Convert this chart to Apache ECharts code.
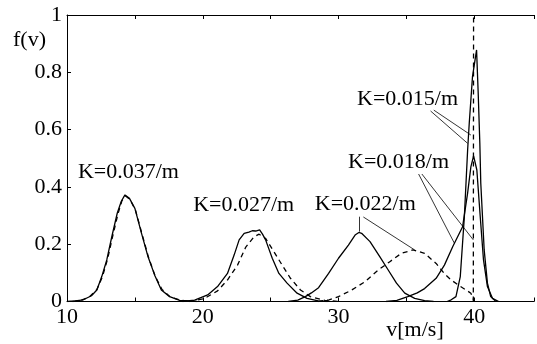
<!DOCTYPE html>
<html>
<head>
<meta charset="utf-8">
<script src="https://cdn.jsdelivr.net/npm/echarts@6/dist/echarts.min.js"></script>
<style>
  html, body { margin: 0; padding: 0; background: #fff; }
  #chart { width: 537px; height: 344px; }
</style>
</head>
<body>
<div id="chart"></div>
<script>
// velocity distributions f(v), [v, f] pairs
const k037Solid = [[10,0],[10.6,0.002],[11.2,0.006],[11.8,0.02],[12.2,0.04],[12.56,0.087],[12.93,0.145],[13.3,0.226],[13.7,0.308],[14.0,0.35],[14.27,0.372],[14.6,0.36],[15.0,0.325],[15.49,0.238],[15.97,0.156],[16.46,0.092],[16.95,0.04],[17.56,0.017],[18.3,0.004],[19,0.002],[19.6,0]];
const k037Dashed = [[10.4,0],[11,0.004],[11.6,0.014],[12.2,0.042],[12.6,0.085],[13.0,0.15],[13.35,0.225],[13.75,0.305],[14.05,0.352],[14.32,0.368],[14.65,0.355],[15.05,0.318],[15.5,0.24],[16.0,0.155],[16.5,0.088],[17.0,0.042],[17.6,0.016],[18.3,0.005],[19,0]];
const k027Solid = [[18.5,0],[19.4,0.005],[20.36,0.023],[21.09,0.052],[21.82,0.098],[22.31,0.162],[22.68,0.215],[23.05,0.238],[23.4,0.242],[23.65,0.247],[23.9,0.246],[24.19,0.25],[24.4,0.235],[24.63,0.215],[25.12,0.151],[25.61,0.098],[26.21,0.064],[26.95,0.029],[27.68,0.011],[28.5,0.002],[29.2,0]];
const k027Dashed = [[19,0],[20.1,0.01],[21.09,0.037],[21.82,0.075],[22.56,0.127],[23.17,0.19],[23.78,0.226],[24.15,0.235],[24.63,0.22],[25.24,0.174],[25.85,0.127],[26.46,0.081],[27.2,0.04],[27.93,0.017],[29,0.004],[30,0]];
const k022Solid = [[26.3,0],[27.0,0.005],[27.56,0.017],[28.0,0.03],[28.53,0.048],[29.27,0.098],[30.0,0.151],[30.73,0.197],[31.22,0.232],[31.5,0.241],[31.7,0.238],[32.32,0.209],[33.05,0.156],[33.66,0.11],[34.27,0.064],[34.88,0.029],[35.61,0.011],[36.34,0.003],[37,0]];
const k022Dashed = [[28.5,0],[29.3,0.006],[30.0,0.017],[30.97,0.04],[31.95,0.069],[32.93,0.11],[33.78,0.139],[34.63,0.168],[35.49,0.18],[36.34,0.168],[37.19,0.133],[37.8,0.097],[38.3,0.075],[38.9,0.055],[39.4,0.04],[39.75,0.029],[40,0]];
const k018Solid = [[33.5,0],[34.3,0.004],[35.1,0.017],[35.8,0.03],[36.34,0.045],[37.19,0.081],[37.8,0.127],[38.41,0.191],[39.14,0.261],[39.51,0.378],[39.75,0.47],[39.95,0.508],[40.19,0.459],[40.44,0.296],[40.68,0.145],[40.97,0.052],[41.34,0.011],[41.8,0]];
const k015Solid = [[38.0,0],[38.3,0.006],[38.65,0.017],[38.97,0.087],[39.27,0.296],[39.51,0.528],[39.63,0.622],[39.87,0.785],[40.17,0.878],[40.29,0.727],[40.41,0.552],[40.48,0.413],[40.73,0.18],[40.97,0.064],[41.21,0.017],[41.6,0]];
const deltaDashed = [[39.93,0],[39.95,1.05]];

const xTicks = [10, 20, 30, 40];
const yTicks = ['0', '0.2', '0.4', '0.6', '0.8', '1'];

// annotation text and leader lines, in data units
const labelNames = ['K=0.037/m', 'K=0.027/m', 'K=0.022/m', 'K=0.018/m', 'K=0.015/m'];
const labelPos = [[14.56,0.449],[23.05,0.333],[32.01,0.337],[34.46,0.483],[35.12,0.703]];
const leaders = [
  [[31.51,0.296],[31.51,0.244]],
  [[31.83,0.295],[35.61,0.18]],
  [[35.90,0.445],[38.54,0.203]],
  [[36.14,0.445],[39.93,0.215]],
  [[36.78,0.665],[39.51,0.552]],
  [[37.02,0.668],[39.75,0.581]]
];

const FONT = 'Liberation Serif';
const chart = echarts.init(document.getElementById('chart'));

const solid = { width: 1.3, color: '#000' };
const dashed = { width: 1.3, color: '#000', type: [5, 4] };
const mk = (data, style) => ({
  type: 'line', data: data, showSymbol: false, symbol: 'none',
  lineStyle: style, silent: true, clip: true
});

const option = {
  animation: false,
  grid: { left: 67, right: 0, top: 15, bottom: 42.5 },
  xAxis: [{
    type: 'value', min: 10, max: 44.4, interval: 5,
    axisLine: { lineStyle: { color: '#000', width: 1 } },
    axisTick: { inside: true, length: 4, lineStyle: { color: '#000' } },
    axisLabel: {
      color: '#000', fontFamily: FONT, fontSize: 22, margin: 5,
      formatter: v => xTicks.indexOf(v) >= 0 ? String(v) : ''
    },
    splitLine: { show: false }
  }, {
    type: 'value', position: 'top', min: 10, max: 44.4, interval: 5,
    axisLine: { show: true, lineStyle: { color: '#000', width: 1 } },
    axisTick: { inside: true, length: 4, lineStyle: { color: '#000' } },
    axisLabel: { show: false },
    splitLine: { show: false }
  }],
  yAxis: {
    type: 'value', min: 0, max: 1, interval: 0.2,
    axisLine: { show: true, lineStyle: { color: '#000', width: 1 } },
    axisTick: { show: true, inside: true, length: 4, lineStyle: { color: '#000' } },
    axisLabel: {
      color: '#000', fontFamily: FONT, fontSize: 22, margin: 5,
      formatter: (v, i) => yTicks[i]
    },
    splitLine: { show: false }
  },
  graphic: [
    { type: 'text', left: 13, top: 29, style: { text: 'f(v)', font: '22px ' + FONT, fill: '#000' } },
    { type: 'text', x: 415, y: 330, style: { text: 'v[m/s]', font: '22px ' + FONT, fill: '#000', align: 'center', verticalAlign: 'middle' } }
  ],
  series: [
    mk(k037Solid, solid), mk(k037Dashed, dashed),
    mk(k027Solid, solid), mk(k027Dashed, dashed),
    mk(k022Solid, solid), mk(k022Dashed, dashed),
    mk(k018Solid, solid), mk(k015Solid, solid),
    Object.assign(mk(deltaDashed, dashed), {
      markLine: {
        silent: true, symbol: 'none', animation: false,
        label: { show: false },
        lineStyle: { color: '#000', width: 0.8, type: 'solid' },
        data: leaders.map(s => [{ coord: s[0] }, { coord: s[1] }])
      }
    }),
    {
      type: 'scatter', silent: true, symbolSize: 1,
      itemStyle: { color: 'rgba(0,0,0,0)' },
      data: labelNames.map((n, i) => ({ name: n, value: labelPos[i] })),
      label: {
        show: true, position: [0, 0], align: 'center', verticalAlign: 'middle',
        formatter: '{b}', color: '#000', opacity: 1, textBorderWidth: 0,
        fontFamily: FONT, fontSize: 22
      }
    }
  ]
};
chart.setOption(option);
</script>
</body>
</html>
